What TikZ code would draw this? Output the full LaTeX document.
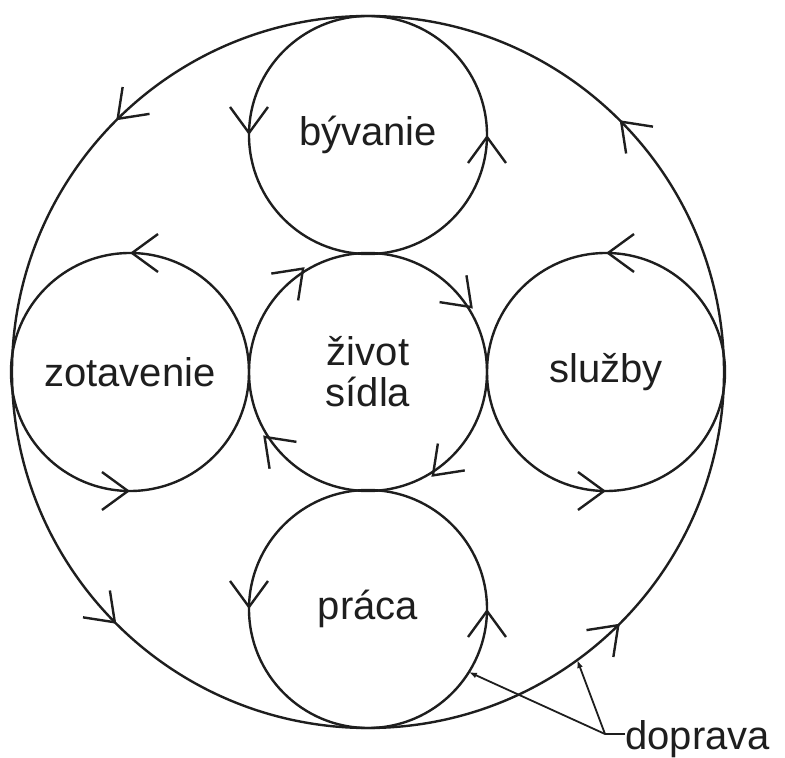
\documentclass[tikz,border=0pt]{standalone}
\usepackage{fontspec}
\setmainfont{Liberation Sans}
\usetikzlibrary{arrows.meta,decorations.markings}
\definecolor{ink}{HTML}{1E1E1E}
\tikzset{
  >={Straight Barb[length=13pt,width=19pt]},
  every node/.style={font=\fontsize{20}{20.5}\selectfont,text=ink},
  ring/.style={circle,draw=ink,line width=1.2pt,inner sep=0pt,outer sep=0pt,minimum size=119pt,align=center},
  ccwfour/.style={postaction={decorate,decoration={markings,mark=between positions 0.125 and 0.875 step 0.25 with {\arrow{>}}}}},
  cwfour/.style={postaction={decorate,decoration={markings,mark=between positions 0.125 and 0.875 step 0.25 with {\arrow{<}}}}},
  ccwsides/.style={postaction={decorate,decoration={markings,mark=between positions 0 and 0.5 step 0.5 with {\arrow{>}}}}},
  ccwpoles/.style={postaction={decorate,decoration={markings,mark=between positions 0.25 and 0.75 step 0.5 with {\arrow{>}}}}},
  lead/.style={draw=ink,line width=0.9pt},
}

\begin{document}
\begin{tikzpicture}[x=0.5pt,y=0.5pt]
\useasboundingbox (-368,-386) rectangle (417,372);

% outer ring
\node[ring,minimum size=356pt,ccwfour] (sidlo) at (0,0) {};

% inner rings
\node[ring,cwfour] (zivot) at (0,0) {život\\sídla};
\node[ring,ccwsides] (byvanie) at (90:237) {bývanie};
\node[ring,ccwsides] (praca) at (270:237) {práca};
\node[ring,ccwpoles] (zotavenie) at (180:238) {zotavenie};
\node[ring,ccwpoles] (sluzby) at (0:238) {služby};

% doprava
\node[anchor=base west,inner sep=0pt] (doprava) at (257,-377) {doprava};
\coordinate (knee) at (237,-362);
\draw[lead] (knee -| doprava.west) -- (knee);
\draw[lead,-{Latex[length=4pt,width=3pt]}] (knee) -- (praca.-32);
\draw[lead,-{Latex[length=4pt,width=3pt]}] (knee) -- (sidlo.-54);

\end{tikzpicture}
\end{document}
